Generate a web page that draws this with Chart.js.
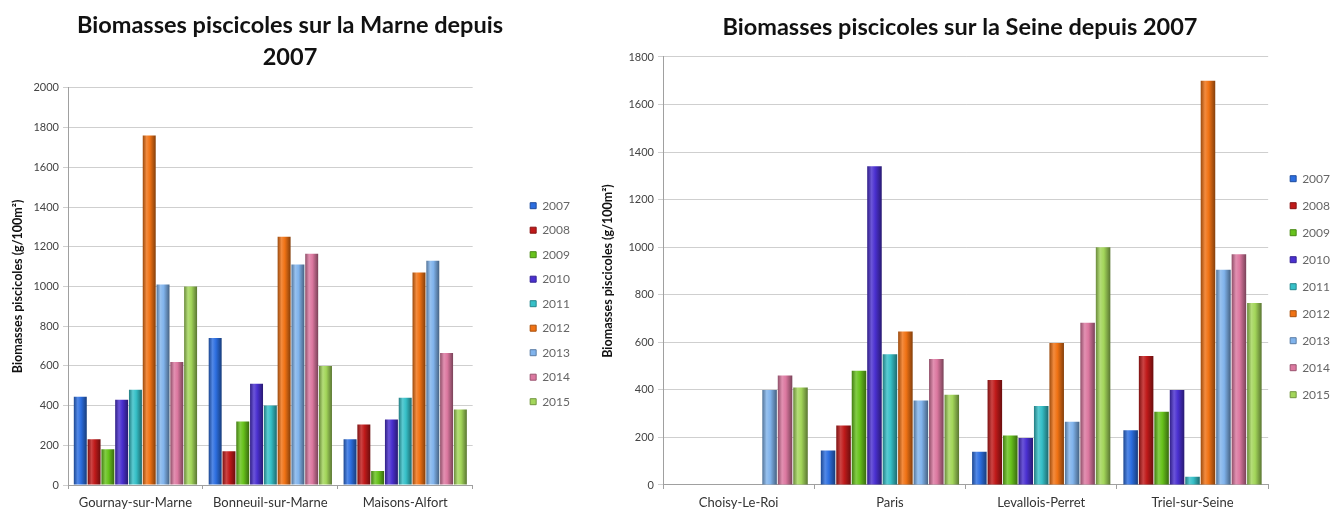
<!DOCTYPE html>
<html>
<head>
<meta charset="utf-8">
<script src="https://cdn.jsdelivr.net/npm/chart.js@4.4.1/dist/chart.umd.min.js"></script>
<style>
  html, body { margin: 0; padding: 0; background: #fff; }
  body { width: 1330px; height: 511px; position: relative; overflow: hidden; }
  .box { position: absolute; top: 0; height: 511px; }
  #left { left: 0; width: 580px; }
  #right { left: 580px; width: 760px; }
</style>
</head>
<body>
<div class="box" id="left"><canvas id="marneChart"></canvas></div>
<div class="box" id="right"><canvas id="seineChart"></canvas></div>
<script>
const years = ['2007', '2008', '2009', '2010', '2011', '2012', '2013', '2014', '2015'];
const yearColors = ['#2c6ee0', '#c01a1a', '#67c21c', '#4a30d0', '#36c0c8', '#f07214', '#80b3ec', '#dc78a0', '#a3d65a'];

// Marne
const marneSites = ['Gournay-sur-Marne', 'Bonneuil-sur-Marne', 'Maisons-Alfort'];
const marne2007 = [445, 740, 230];
const marne2008 = [230, 170, 305];
const marne2009 = [180, 320, 70];
const marne2010 = [430, 510, 330];
const marne2011 = [480, 400, 440];
const marne2012 = [1760, 1250, 1070];
const marne2013 = [1010, 1110, 1130];
const marne2014 = [620, 1165, 665];
const marne2015 = [1000, 600, 380];

// Seine
const seineSites = ['Choisy-Le-Roi', 'Paris', 'Levallois-Perret', 'Triel-sur-Seine'];
const seine2007 = [null, 145, 140, 230];
const seine2008 = [null, 250, 442, 542];
const seine2009 = [null, 480, 208, 308];
const seine2010 = [null, 1340, 198, 400];
const seine2011 = [null, 550, 332, 35];
const seine2012 = [null, 645, 597, 1700];
const seine2013 = [400, 355, 266, 905];
const seine2014 = [460, 530, 682, 970];
const seine2015 = [410, 380, 1000, 765];

const marneSeries = [marne2007, marne2008, marne2009, marne2010, marne2011, marne2012, marne2013, marne2014, marne2015];
const seineSeries = [seine2007, seine2008, seine2009, seine2010, seine2011, seine2012, seine2013, seine2014, seine2015];

const CAT_PCT = 0.92;
const BAR_PCT = 0.94;
const FONT = 'Lato, "Open Sans", sans-serif';

function mix(hex, target, amt) {
  const n = parseInt(hex.slice(1), 16);
  let r = (n >> 16) & 255, g = (n >> 8) & 255, b = n & 255;
  r = Math.round(r + (target - r) * amt);
  g = Math.round(g + (target - g) * amt);
  b = Math.round(b + (target - b) * amt);
  return `rgb(${r},${g},${b})`;
}

// cylinder-like shading across each bar
function barFill(ctx) {
  const color = yearColors[ctx.datasetIndex];
  const chart = ctx.chart;
  const xs = chart.scales.x;
  if (!xs || !chart.chartArea || ctx.type !== 'data') return color;
  const n = chart.data.datasets.length;
  const catW = (xs.right - xs.left) / chart.data.labels.length;
  const groupW = catW * CAT_PCT;
  const barW = groupW / n * BAR_PCT;
  const center = xs.getPixelForValue(ctx.dataIndex);
  const cx = center - groupW / 2 + (ctx.datasetIndex + 0.5) * groupW / n;
  const g = chart.ctx.createLinearGradient(cx - barW / 2, 0, cx + barW / 2, 0);
  g.addColorStop(0, mix(color, 0, 0.35));
  g.addColorStop(0.3, mix(color, 255, 0.18));
  g.addColorStop(0.55, color);
  g.addColorStop(1, mix(color, 0, 0.45));
  return g;
}

function makeDatasets(series) {
  return series.map((vals, i) => ({
    label: years[i],
    data: vals,
    backgroundColor: barFill,
    borderWidth: 0,
    categoryPercentage: CAT_PCT,
    barPercentage: BAR_PCT
  }));
}

function makeChart(id, labels, series, title, yMax, o) {
  return new Chart(document.getElementById(id), {
    type: 'bar',
    data: { labels: labels, datasets: makeDatasets(series) },
    options: {
      responsive: true,
      maintainAspectRatio: false,
      animation: false,
      layout: { padding: { left: 0, right: 0, top: o.top, bottom: -5 } },
      plugins: {
        title: {
          display: true,
          text: title,
          color: '#111',
          font: { family: FONT, size: 23.5, weight: 'bold', lineHeight: 1.36 },
          padding: { top: 2, bottom: o.titleGap }
        },
        legend: {
          position: 'right',
          align: 'center',
          title: { display: true, text: '', font: { size: 12 }, padding: { top: o.legendShift, bottom: o.legendShift } },
          labels: {
            boxWidth: 6,
            boxHeight: 6,
            padding: o.legendGap,
            color: '#333',
            font: { family: FONT, size: 12 },
            generateLabels: (chart) => chart.data.datasets.map((ds, i) => ({
              text: ds.label,
              fillStyle: yearColors[i],
              strokeStyle: mix(yearColors[i], 0, 0.3),
              lineWidth: 1,
              datasetIndex: i
            }))
          }
        },
        tooltip: { enabled: false }
      },
      scales: {
        x: {
          grid: { display: true, drawOnChartArea: false, offset: true, tickLength: 4, color: '#a0a0a0' },
          border: { color: '#a0a0a0' },
          ticks: { color: '#333', font: { family: FONT, size: 13, lineHeight: 1 }, maxRotation: 0, padding: 7 }
        },
        y: {
          min: 0,
          max: yMax,
          afterFit: (scale) => { scale.width = o.yWidth; },
          ticks: { stepSize: 200, color: '#444', font: { family: FONT, size: 11 }, padding: 4,
            callback: (v) => String(v) },
          grid: { color: '#cfcfcf', tickLength: 5 },
          border: { color: '#a0a0a0' },
          title: {
            display: true,
            text: 'Biomasses piscicoles (g/100m²)',
            color: '#111',
            font: { family: FONT, size: 12.5, weight: 'bold' },
            padding: { top: o.yTitleLeft, bottom: 0 }
          }
        },
        // empty spacer between plot and legend
        gap: {
          position: 'right',
          afterFit: (scale) => { scale.width = o.legendSpace; },
          grid: { display: false },
          border: { display: false },
          ticks: { display: false }
        }
      }
    }
  });
}

makeChart('marneChart', marneSites, marneSeries,
  ['Biomasses piscicoles sur la Marne depuis', '2007'], 2000,
  { top: 7, titleGap: 15, yWidth: 68, yTitleLeft: 10, legendSpace: 45, legendGap: 12.5, legendShift: 35 });

makeChart('seineChart', seineSites, seineSeries,
  'Biomasses piscicoles sur la Seine depuis 2007', 1800,
  { top: 9, titleGap: 14, yWidth: 83, yTitleLeft: 20, legendSpace: 7, legendGap: 15, legendShift: 17 });
</script>
</body>
</html>
